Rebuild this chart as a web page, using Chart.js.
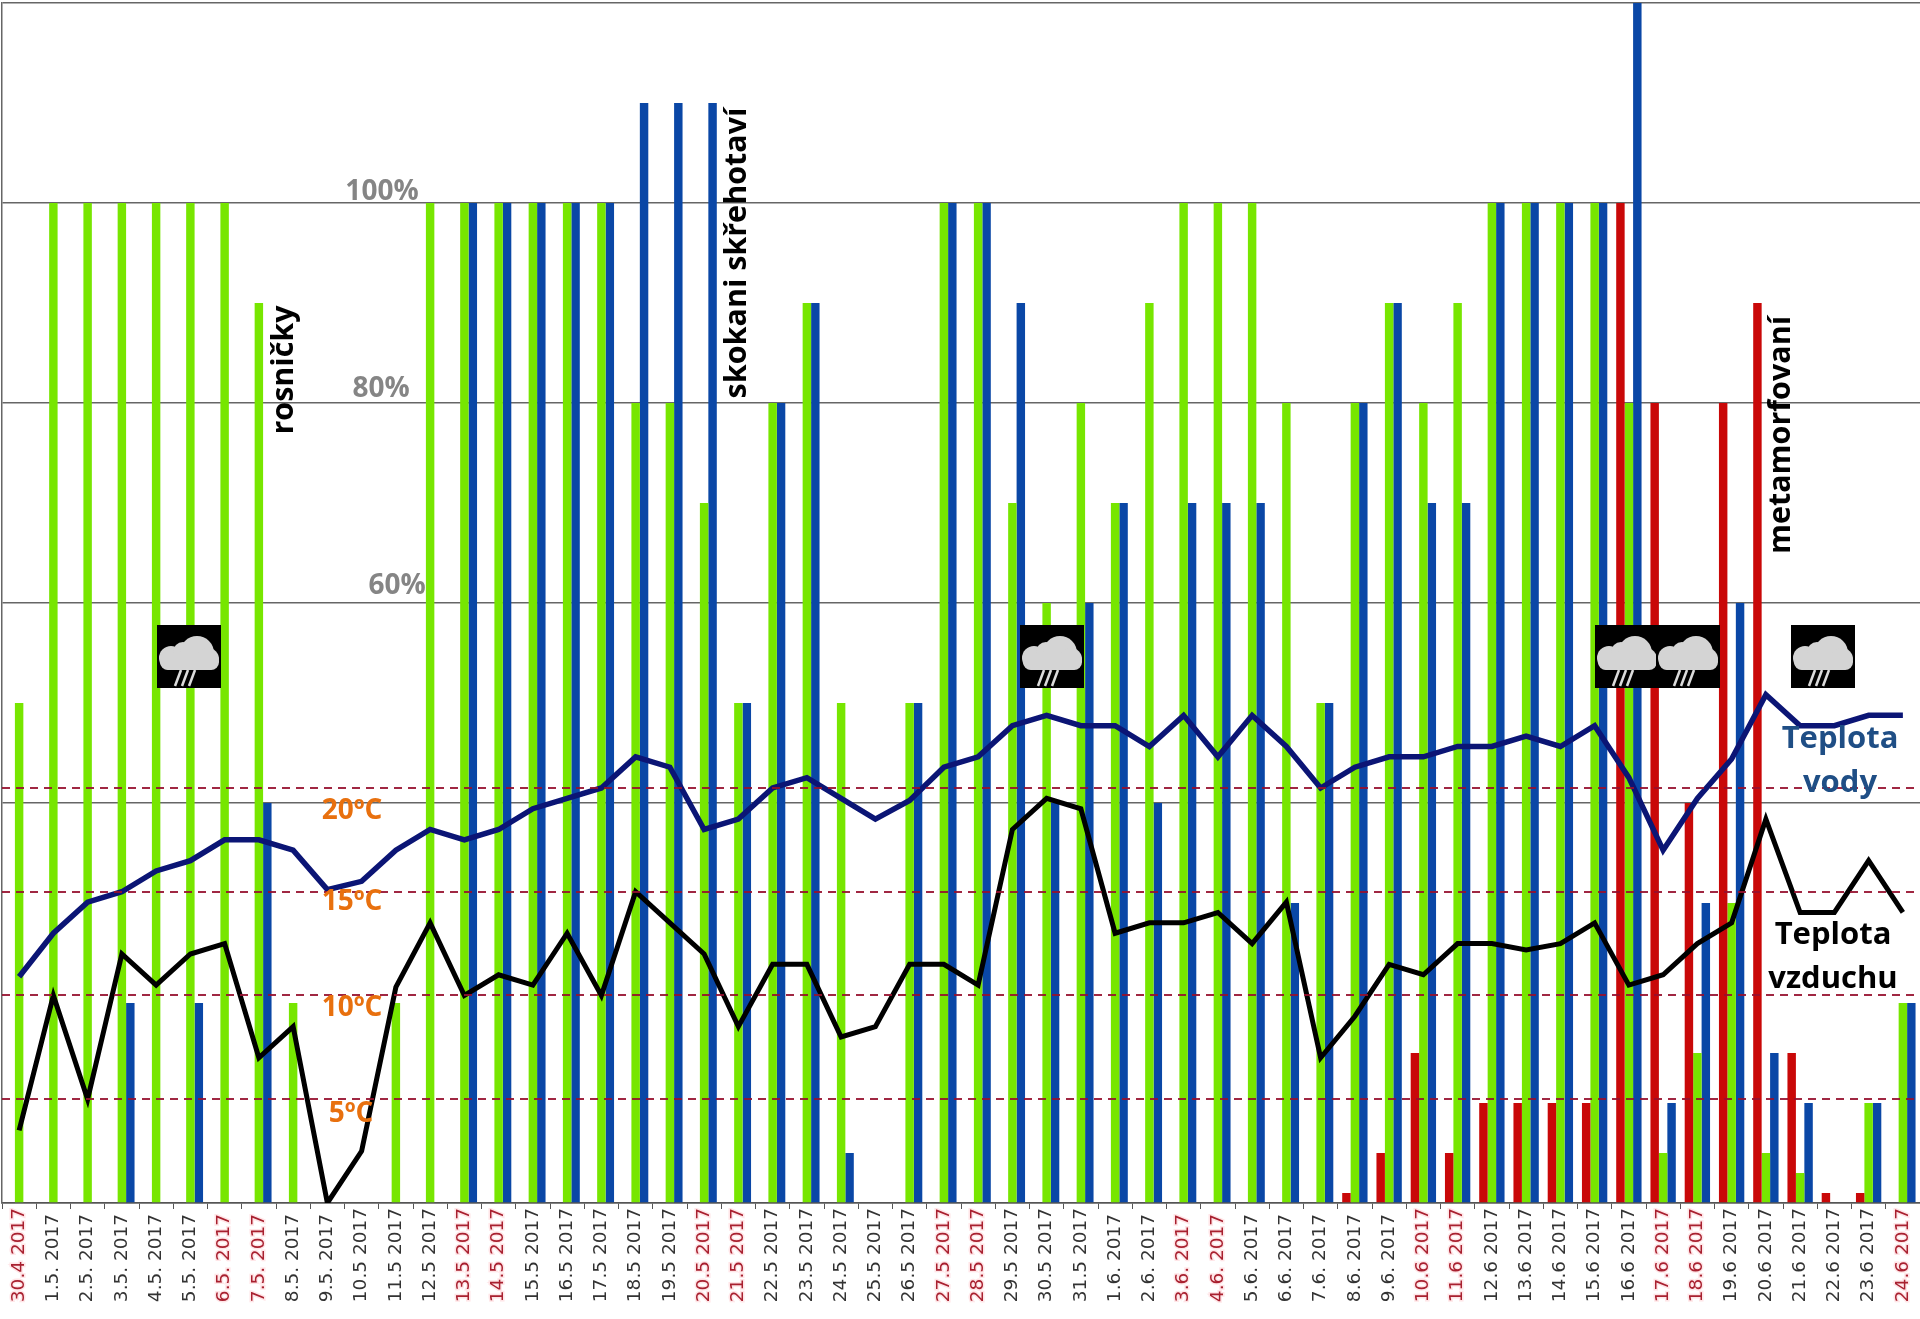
<!DOCTYPE html>
<html lang="cs"><head><meta charset="utf-8">
<style>html,body{margin:0;padding:0;background:#fff}canvas{display:block}</style>
<script src="https://cdn.jsdelivr.net/npm/chart.js@4/dist/chart.umd.min.js"></script>
</head><body>
<div style="width:1920px;height:1319px;position:relative"><canvas id="c" width="1920" height="1319"></canvas></div>
<script>
const dates = ["30.4 2017","1.5. 2017","2.5. 2017","3.5. 2017","4.5. 2017","5.5. 2017","6.5. 2017","7.5. 2017","8.5. 2017","9.5. 2017","10.5 2017","11.5 2017","12.5 2017","13.5 2017","14.5 2017","15.5 2017","16.5 2017","17.5 2017","18.5 2017","19.5 2017","20.5 2017","21.5 2017","22.5 2017","23.5 2017","24.5 2017","25.5 2017","26.5 2017","27.5 2017","28.5 2017","29.5 2017","30.5 2017","31.5 2017","1.6. 2017","2.6. 2017","3.6. 2017","4.6. 2017","5.6. 2017","6.6. 2017","7.6. 2017","8.6. 2017","9.6. 2017","10.6 2017","11.6 2017","12.6 2017","13.6 2017","14.6 2017","15.6 2017","16.6 2017","17.6 2017","18.6 2017","19.6 2017","20.6 2017","21.6 2017","22.6 2017","23.6 2017","24.6 2017"];
const redDates = ["30.4 2017","6.5. 2017","7.5. 2017","13.5 2017","14.5 2017","20.5 2017","21.5 2017","27.5 2017","28.5 2017","3.6. 2017","4.6. 2017","10.6 2017","11.6 2017","17.6 2017","18.6 2017","24.6 2017"];
const rosnicky = [50,100,100,100,100,100,100,90,20,0,0,20,100,100,100,100,100,100,80,80,70,50,80,90,50,0,50,100,100,70,60,80,70,90,100,100,100,80,50,80,90,80,90,100,100,100,100,80,5,15,30,5,3,0,10,20];
const skokani = [0,0,0,20,0,20,0,40,0,0,0,0,0,100,100,100,100,100,110,110,110,50,80,90,5,0,50,100,100,90,40,60,70,40,70,70,70,30,50,80,90,70,70,100,100,100,100,120,10,30,60,15,10,0,10,20];
const metamorfovani = [0,0,0,0,0,0,0,0,0,0,0,0,0,0,0,0,0,0,0,0,0,0,0,0,0,0,0,0,0,0,0,0,0,0,0,0,0,0,0,1,5,15,5,10,10,10,10,100,80,40,80,90,15,1,1,0];
const teplotaVody = [10.9,13,14.5,15,16,16.5,17.5,17.5,17,15.1,15.5,17,18,17.5,18,19,19.5,20,21.5,21,18,18.5,20,20.5,19.5,18.5,19.4,21,21.5,23,23.5,23,23,22,23.5,21.5,23.5,22,20,21,21.5,21.5,22,22,22.5,22,23,20.5,17,19.5,21.4,24.5,23,23,23.5,23.5];
const teplotaVzduchu = [3.5,10,5,12,10.5,12,12.5,7,8.5,0,2.5,10.4,13.5,10,11,10.5,13,10,15,13.5,12,8.5,11.5,11.5,8,8.5,11.5,11.5,10.5,18,19.5,19,13,13.5,13.5,14,12.5,14.5,7,9,11.5,11,12.5,12.5,12.2,12.5,13.5,10.5,11,12.5,13.5,18.5,14,14,16.5,14];
const percentTicks = [100,80,60];
const tempRefs = [5,10,15,20];

function rainIcon(ctx, x, y) {
  ctx.save();
  ctx.translate(x, y);
  ctx.fillStyle = '#000';
  ctx.fillRect(0, 0, 64, 63);
  ctx.fillStyle = '#d4d4d4';
  ctx.beginPath(); ctx.arc(14, 33, 12, 0, Math.PI * 2); ctx.fill();
  ctx.beginPath(); ctx.arc(26, 27, 10, 0, Math.PI * 2); ctx.fill();
  ctx.beginPath(); ctx.arc(40, 28, 17, 0, Math.PI * 2); ctx.fill();
  ctx.beginPath(); ctx.arc(51, 34, 11, 0, Math.PI * 2); ctx.fill();
  ctx.beginPath(); ctx.roundRect(3, 28, 59, 17, 8); ctx.fill();
  ctx.strokeStyle = '#dcdcdc'; ctx.lineWidth = 2.6;
  [[24,18],[31,25],[38,32]].forEach(([a,b]) => {
    ctx.beginPath(); ctx.moveTo(a, 45); ctx.lineTo(b, 61); ctx.stroke();
  });
  ctx.restore();
}

const overlay = {
  id: 'overlay',
  afterDraw(chart) {
    const ctx = chart.ctx;
    [[157,625],[1020,625],[1595,625],[1656,625],[1791,625]].forEach(p => rainIcon(ctx, p[0], p[1]));
    ctx.save();
    ctx.textBaseline = 'middle';
    ctx.textAlign = 'center';
    ctx.fillStyle = '#858585';
    ctx.font = 'bold 28px "Open Sans"';
    [[382,192],[381,389],[397,586]].forEach((p, i) => ctx.fillText(percentTicks[i] + '%', p[0], p[1]));
    ctx.fillStyle = '#e8700e';
    [[352,811],[352,902],[352,1008],[351,1114]].forEach((p, i) => ctx.fillText(tempRefs[3 - i] + 'ºC', p[0], p[1]));
    ctx.fillStyle = '#1f4e85';
    ctx.font = 'bold 31px "Open Sans"';
    ctx.fillText('Teplota', 1840, 739);
    ctx.fillText('vody', 1840, 783);
    ctx.fillStyle = '#000';
    ctx.fillText('Teplota', 1833, 935);
    ctx.fillText('vzduchu', 1833, 979);
    ctx.font = 'bold 30.5px "Open Sans"';
    [['rosničky',284,370],['skokani skřehotaví',737,253],['metamorfovaní',1781,435]].forEach(t => {
      ctx.save();
      ctx.translate(t[1], t[2]);
      ctx.rotate(-Math.PI / 2);
      ctx.fillText(t[0], 0, 0);
      ctx.restore();
    });
    ctx.restore();
  }
};

const bar = (label, data, color) => ({ type: 'bar', label, data, backgroundColor: color, order: 2, yAxisID: 'y', barPercentage: 1, categoryPercentage: 0.74 });
const line = (label, data, color, w) => ({ type: 'line', label, data, borderColor: color, borderWidth: w, pointRadius: 0, tension: 0, fill: false, order: 1, yAxisID: 'y2', borderJoinStyle: 'miter' });

new Chart(document.getElementById('c'), {
  data: {
    labels: dates,
    datasets: [
      bar('metamorfovaní', metamorfovani, '#c90808'),
      bar('rosničky', rosnicky, '#77e600'),
      bar('skokani skřehotaví', skokani, '#0a47a6'),
      line('Teplota vody', teplotaVody, '#0b1575', 5.5),
      line('Teplota vzduchu', teplotaVzduchu, '#000', 5)
    ]
  },
  options: {
    responsive: false,
    animation: false,
    layout: { padding: { left: 2, top: 3, right: 0, bottom: 0 } },
    plugins: { legend: { display: false }, tooltip: { enabled: false } },
    scales: {
      x: {
        offset: true,
        afterFit(s) { s.height = 116; s.paddingLeft = 0; s.paddingRight = 0; },
        grid: { drawOnChartArea: false, drawTicks: true, tickLength: 6, color: '#555', offset: true },
        border: { display: true, color: '#555', width: 1.5 },
        ticks: {
          autoSkip: false, minRotation: 90, maxRotation: 90, padding: -1,
          font: { family: '"DejaVu Sans"', size: 18.5 },
          callback(v) { const l = this.getLabelForValue(v); return /^\d\.\d\./.test(l) ? l + '\u00a0' : l; },
          color: c => redDates.includes(dates[c.index]) ? '#a8202f' : '#333',
          textStrokeColor: c => redDates.includes(dates[c.index]) ? 'rgba(255,190,195,.4)' : 'rgba(0,0,0,0)',
          textStrokeWidth: c => redDates.includes(dates[c.index]) ? 3 : 0
        }
      },
      y: {
        position: 'left', min: 0, max: 120,
        afterFit(s) { s.width = 0; },
        ticks: { stepSize: 20, display: false },
        grid: { drawTicks: false, lineWidth: 1.5, color: c => c.tick && c.tick.value === 20 ? 'rgba(0,0,0,0)' : '#666' },
        border: { display: true, color: '#666', width: 1.5 }
      },
      y2: {
        position: 'left', min: 0, max: 57.83,
        afterFit(s) { s.width = 0; },
        afterBuildTicks(s) { s.ticks = tempRefs.map(value => ({ value })); },
        ticks: { display: false },
        grid: { z: 1, drawTicks: false, lineWidth: 2, color: 'rgba(150,15,45,.9)' },
        border: { display: false, dash: [8, 6] }
      }
    }
  },
  plugins: [overlay]
});
</script>
</body></html>
